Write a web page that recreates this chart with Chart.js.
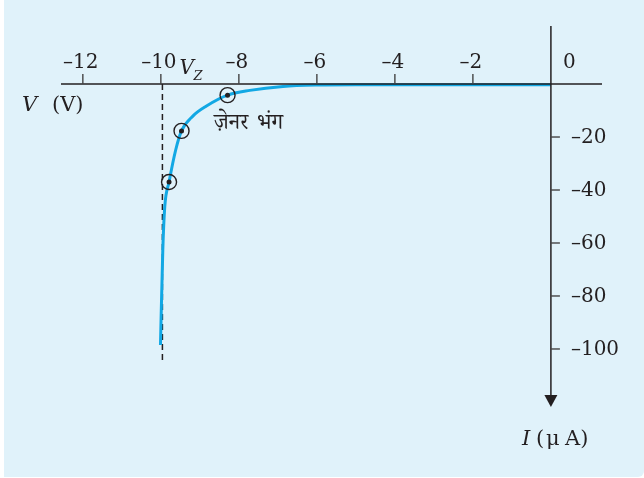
<!DOCTYPE html>
<html>
<head>
<meta charset="utf-8">
<title>Zener breakdown</title>
<script src="https://cdn.jsdelivr.net/npm/chart.js@4.4.1/dist/chart.umd.min.js"></script>
<style>
  html, body { margin: 0; padding: 0; background: #ffffff; }
  #wrap { width: 644px; height: 478px; position: relative; }
</style>
</head>
<body>
<div id="wrap"><canvas id="zener"></canvas></div>
<script>
// reverse characteristic: voltage (V) vs current (uA)
const curveV = [-10.01, -9.95, -9.90, -9.79, -9.62, -9.47, -9.18, -8.83, -8.29, -7.72, -6.87, -6.0, -5.0, -3.0, -1.0, 0];
const curveI = [-98.5, -62.6, -46.4, -37.0, -24.9, -17.7, -12.1, -8.3, -4.2, -2.4, -0.9, -0.4, -0.3, -0.3, -0.3, -0.3];

// ringed points on the knee
const markV = [-8.29, -9.47, -9.79];
const markI = [-4.2, -17.7, -37.0];

// breakdown voltage and the dashed guide under it
const vz = -9.96;
const guideI = [0, -104.8];

const xTicks = [-12, -10, -8, -6, -4, -2, 0];
const yTicks = [-20, -40, -60, -80, -100];

const ink = '#231f20';
const cyan = '#12a8e4';
const serif = "'DejaVu Serif', 'Liberation Serif', serif";

function pts(xs, ys) {
    return xs.map((x, i) => ({ x: x, y: ys[i] }));
}

// light blue panel behind everything
const panel = {
    id: 'panel',
    beforeDraw(chart) {
        const c = chart.ctx;
        c.save();
        c.fillStyle = '#e0f2fa';
        c.beginPath();
        c.roundRect(4, 0, 640, 477, [0, 0, 6, 0]);
        c.fill();
        c.restore();
    }
};

// axes crossing at the origin, ticks and labels from the scales
const originAxes = {
    id: 'originAxes',
    afterDatasetsDraw(chart) {
        const c = chart.ctx;
        const xs = chart.scales.x, ys = chart.scales.y;
        const x0 = xs.getPixelForValue(0), y0 = ys.getPixelForValue(0);
        const area = chart.chartArea;
        c.save();
        c.strokeStyle = ink;
        c.fillStyle = ink;

        // horizontal axis
        c.lineWidth = 1.5;
        c.beginPath();
        c.moveTo(area.left, y0);
        c.lineTo(area.right, y0);
        c.stroke();

        // vertical axis with arrow
        c.beginPath();
        c.moveTo(x0, area.top);
        c.lineTo(x0, area.bottom - 10);
        c.stroke();
        c.beginPath();
        c.moveTo(x0 - 6.5, area.bottom - 12);
        c.lineTo(x0 + 6.5, area.bottom - 12);
        c.lineTo(x0, area.bottom);
        c.closePath();
        c.fill();

        c.font = '20px ' + serif;
        c.textBaseline = 'alphabetic';
        xs.ticks.forEach(t => {
            const px = xs.getPixelForValue(t.value);
            const txt = t.value === 0 ? '0' : '\u2013' + Math.abs(t.value);
            if (t.value === 0) {
                c.textAlign = 'left';
                c.fillText(txt, px + 12, y0 - 16);
                return;
            }
            c.strokeStyle = '#444';
            c.lineWidth = 1.4;
            c.beginPath();
            c.moveTo(px, y0);
            c.lineTo(px, y0 - 10);
            c.stroke();
            c.textAlign = 'center';
            c.fillText(txt, px - 2, y0 - 16);
        });

        c.textBaseline = 'middle';
        c.textAlign = 'left';
        ys.ticks.forEach(t => {
            const py = ys.getPixelForValue(t.value);
            c.strokeStyle = '#444';
            c.lineWidth = 1.4;
            c.beginPath();
            c.moveTo(x0, py);
            c.lineTo(x0 + 9, py);
            c.stroke();
            c.fillText('\u2013' + Math.abs(t.value), x0 + 20, py + 1);
        });

        // axis titles
        c.textBaseline = 'alphabetic';
        c.font = 'italic 21px ' + serif;
        c.fillText('V', 22, 111);
        c.font = '21px ' + serif;
        c.fillText('(V)', 52, 111);

        c.font = 'italic 21px ' + serif;
        c.fillText('I', 522, 445);
        c.font = '21px ' + serif;
        c.fillText('(', 536, 445);
        c.fillText('\u03bc', 546, 445);
        c.fillText('A)', 565, 445);

        // V_Z next to the breakdown tick
        const vzx = xs.getPixelForValue(vz);
        c.font = 'italic 20px ' + serif;
        c.fillText('V', vzx + 17, y0 - 10);
        c.font = 'italic 13px ' + serif;
        c.fillText('Z', vzx + 31, y0 - 4);

        // breakdown label, two words with a wide gap
        c.font = "22px 'Noto Serif Devanagari', 'Noto Sans Devanagari', 'Lohit Devanagari', 'Noto Sans', sans-serif";
        c.textBaseline = 'middle';
        c.fillText('ज़ेनर', 214, 127);
        c.fillText('भंग', 257, 127);
        c.restore();
    }
};

new Chart(document.getElementById('zener'), {
    type: 'scatter',
    data: {
        datasets: [
            {
                data: pts(curveV, curveI),
                order: 3,
                showLine: true,
                borderColor: cyan,
                borderWidth: 3,
                pointRadius: 0,
                cubicInterpolationMode: 'monotone'
            },
            {
                data: pts([vz, vz], guideI),
                order: 4,
                showLine: true,
                borderColor: ink,
                borderWidth: 1.5,
                borderDash: [6, 4],
                pointRadius: 0
            },
            {
                data: pts(markV, markI),
                order: 1,
                pointRadius: 7.5,
                pointBorderWidth: 1.4,
                pointBorderColor: ink,
                pointBackgroundColor: 'rgba(0,0,0,0)'
            },
            {
                data: pts(markV, markI),
                order: 0,
                pointRadius: 2.5,
                pointBorderWidth: 0,
                pointBackgroundColor: ink
            }
        ]
    },
    options: {
        responsive: true,
        maintainAspectRatio: false,
        animation: false,
        layout: { padding: { left: 61, right: 42, top: 26, bottom: 71 } },
        plugins: {
            legend: { display: false },
            tooltip: { enabled: false }
        },
        scales: {
            x: {
                type: 'linear',
                display: false,
                min: -12.56,
                max: 1.31,
                afterBuildTicks: s => { s.ticks = xTicks.map(v => ({ value: v })); }
            },
            y: {
                type: 'linear',
                display: false,
                min: -121.9,
                max: 21.9,
                afterBuildTicks: s => { s.ticks = yTicks.map(v => ({ value: v })); }
            }
        }
    },
    plugins: [panel, originAxes]
});
</script>
</body>
</html>
